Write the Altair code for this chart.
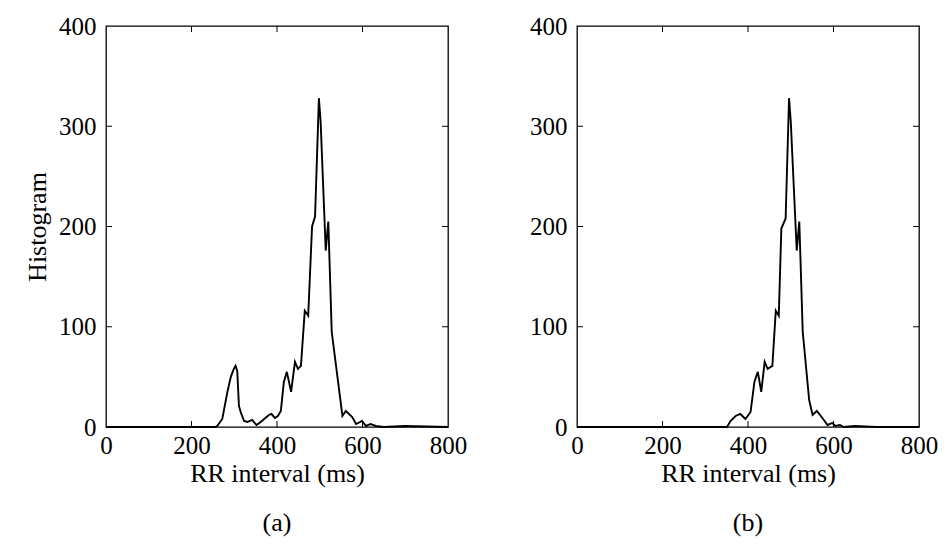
import altair as alt
import pandas as pd

# ---- data ----
rr_a = [0, 100, 200, 255, 260, 272, 284, 292, 299, 303, 307, 311, 315, 323, 331, 342,
        352, 362, 370, 381, 387, 395, 402, 409, 416, 423, 433, 442, 449, 456, 465, 473,
        482, 489, 498, 502, 514, 520, 528, 553, 561, 576, 585, 599, 608, 619, 631, 650,
        700, 800]
hist_a = [0, 0, 0, 0, 1, 8, 35, 50, 58, 61, 56, 21, 15, 6, 5, 7,
          2, 5, 8, 12, 13, 9, 11, 16, 45, 55, 35, 65, 58, 61, 116, 111,
          200, 210, 328, 305, 176, 205, 95, 11, 16, 10, 3, 6, 1, 3, 1, 0,
          1, 0]

rr_b = [0, 100, 200, 300, 351, 359, 371, 382, 394, 406, 415, 423, 431, 439, 446, 457,
        465, 472, 478, 488, 496, 500, 514, 520, 528, 543, 551, 561, 574, 586, 597, 605,
        615, 624, 650, 700, 800]
hist_b = [0, 0, 0, 0, 0, 6, 11, 13, 8, 15, 45, 55, 35, 65, 58, 61,
          116, 111, 198, 208, 328, 305, 176, 205, 95, 27, 12, 16, 9, 2, 4, 1,
          2, 0, 1, 0, 0]

x_tick_values = [0, 200, 400, 600, 800]
y_tick_values = [0, 100, 200, 300, 400]
x_inner_ticks = [200, 400, 600]
y_inner_ticks = [100, 200, 300]

FONT = "Liberation Serif"
LFS = 25
TFS = 26
W, H = 342, 401
TK = 6


def panel(xs, ys, sub, ytitle):
    df = pd.DataFrame({"rr": xs, "h": ys})
    xscale = alt.Scale(domain=[0, 800], nice=False, zero=False)
    yscale = alt.Scale(domain=[0, 400], nice=False, zero=False)
    xaxis = alt.Axis(values=x_tick_values, title="RR interval (ms)", ticks=False,
                     domain=False, grid=False, labelFontSize=LFS, titleFontSize=TFS,
                     labelFont=FONT, titleFont=FONT, labelColor="black",
                     titleColor="black", titleFontWeight="normal", labelPadding=6,
                     titlePadding=2, format="d", labelFlush=False)
    yaxis = alt.Axis(values=y_tick_values, title=ytitle, ticks=False,
                     domain=False, grid=False, labelFontSize=LFS, titleFontSize=TFS,
                     labelFont=FONT, titleFont=FONT, labelColor="black",
                     titleColor="black", titleFontWeight="normal", labelPadding=10,
                     titlePadding=8, format="d", labelFlush=False)
    X = alt.X("rr:Q", scale=xscale, axis=xaxis)
    Y = alt.Y("h:Q", scale=yscale, axis=yaxis)
    line = alt.Chart(df).mark_line(color="black", strokeWidth=1.9).encode(x=X, y=Y)
    ydf = pd.DataFrame({"h": y_inner_ticks})
    xdf = pd.DataFrame({"rr": x_inner_ticks})
    lt = alt.Chart(ydf).mark_rule(color="black", strokeWidth=1).encode(
        y=Y, x=alt.value(0), x2=alt.value(TK))
    rt = alt.Chart(ydf).mark_rule(color="black", strokeWidth=1).encode(
        y=Y, x=alt.value(W - TK), x2=alt.value(W))
    bt = alt.Chart(xdf).mark_rule(color="black", strokeWidth=1).encode(
        x=X, y=alt.value(H - TK), y2=alt.value(H))
    tt = alt.Chart(xdf).mark_rule(color="black", strokeWidth=1).encode(
        x=X, y=alt.value(0), y2=alt.value(TK))
    return alt.layer(line, lt, rt, bt, tt).properties(
        width=W, height=H,
        title=alt.TitleParams(sub, orient="bottom", fontSize=TFS, font=FONT,
                              fontWeight="normal", color="black", offset=24),
    )


left = panel(rr_a, hist_a, "(a)", "Histogram")
right = panel(rr_b, hist_b, "(b)", "")

chart = alt.hconcat(left, right, spacing=60).configure_view(
    stroke="black", strokeWidth=1.3
).properties(
    padding={"left": 23, "top": 13, "right": 5, "bottom": 5},
    background="white",
)

chart.save("out.html", embed_options={"renderer": "svg", "actions": False})
